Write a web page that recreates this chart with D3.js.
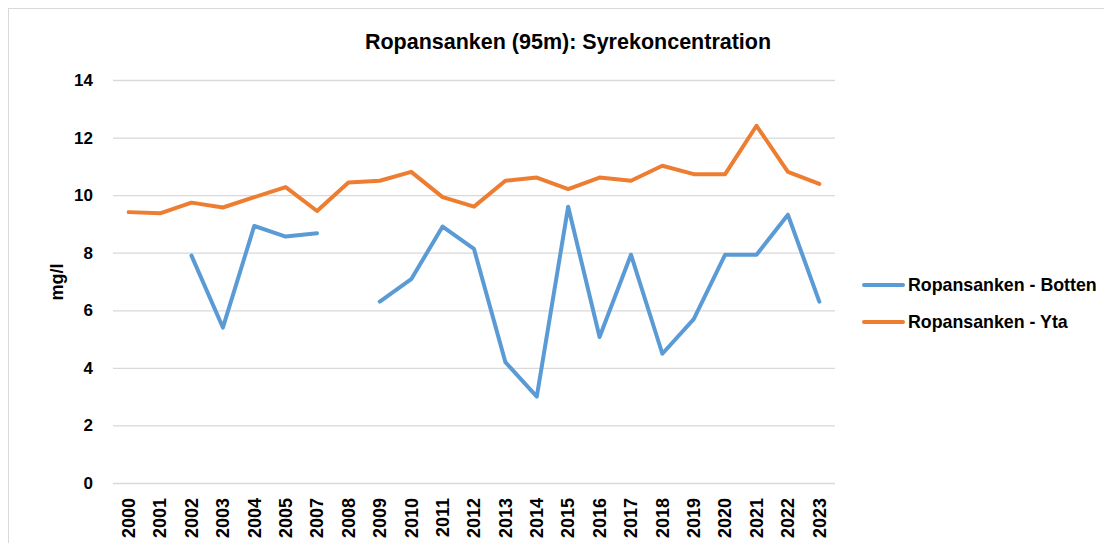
<!DOCTYPE html>
<html>
<head>
<meta charset="utf-8">
<script src="https://cdn.jsdelivr.net/npm/d3@7"></script>
<style>
  body { margin: 0; background: #fff; }
  text { font-family: "Liberation Sans", Arial, sans-serif; font-weight: bold; fill: #000; }
</style>
</head>
<body>
<svg id="chart" width="1104" height="543"></svg>
<script>
// categories (note: 2006 missing in source)
const years = ["2000","2001","2002","2003","2004","2005","2007","2008","2009","2010","2011",
  "2012","2013","2014","2015","2016","2017","2018","2019","2020","2021","2022","2023"];

const botten = [null, null, 7.9, 5.4, 8.93, 8.56, 8.68, null, 6.3, 7.08, 8.91,
  8.13, 4.2, 3.0, 9.6, 5.07, 7.93, 4.49, 5.69, 7.93, 7.93, 9.32, 6.3];

const yta = [9.41, 9.37, 9.74, 9.57, 9.93, 10.28, 9.45, 10.44, 10.5, 10.81, 9.93,
  9.6, 10.5, 10.61, 10.21, 10.61, 10.5, 11.02, 10.73, 10.73, 12.41, 10.81, 10.39];

const yTicks = [0, 2, 4, 6, 8, 10, 12, 14];

const series = [
  {name: "Ropansanken - Botten", values: botten, color: "#5b9bd5"},
  {name: "Ropansanken - Yta", values: yta, color: "#ed7d31"},
];

const svg = d3.select("#chart");

// outer frame
svg.append("rect")
  .attr("x", 8.5).attr("y", 8.5)
  .attr("width", 1110).attr("height", 560)
  .attr("fill", "none").attr("stroke", "#d9d9d9");

const plotL = 113, plotR = 835, plotT = 80, plotB = 483;

const x = d3.scaleBand().domain(years).range([plotL, plotR]);
const y = d3.scaleLinear().domain([0, 14]).range([plotB, plotT]);

// gridlines
svg.append("g")
  .selectAll("line")
  .data(yTicks)
  .enter()
  .append("line")
  .attr("x1", plotL).attr("x2", plotR)
  .attr("y1", d => y(d) + 0.5).attr("y2", d => y(d) + 0.5)
  .attr("stroke", "#d9d9d9").attr("stroke-width", 1.3);

// y axis labels
const yAxis = svg.append("g")
  .attr("transform", `translate(${plotL - 20},0)`)
  .call(d3.axisLeft(y).tickValues(yTicks).tickSize(0).tickPadding(0));
yAxis.select(".domain").remove();
yAxis.selectAll("text")
  .style("font-size", "17px")
  .style("font-family", "'Liberation Sans', Arial, sans-serif")
  .style("font-weight", "bold")
  .attr("fill", "#000");

// x axis labels
const xAxis = svg.append("g")
  .attr("transform", `translate(0,${plotB})`)
  .call(d3.axisBottom(x).tickSize(0).tickPadding(0));
xAxis.select(".domain").remove();
xAxis.selectAll("text")
  .attr("transform", "rotate(-90)")
  .attr("x", -15).attr("y", 0).attr("dy", "0.35em")
  .style("text-anchor", "end")
  .style("font-size", "18px")
  .style("font-family", "'Liberation Sans', Arial, sans-serif")
  .style("font-weight", "bold")
  .attr("fill", "#000");

// lines
const line = d3.line()
  .defined(d => d.v != null)
  .x(d => x(d.year) + x.bandwidth() / 2)
  .y(d => y(d.v));

series.forEach(s => {
  svg.append("path")
    .datum(years.map((yr, i) => ({year: yr, v: s.values[i]})))
    .attr("fill", "none")
    .attr("stroke", s.color)
    .attr("stroke-width", 4)
    .attr("stroke-linejoin", "round")
    .attr("stroke-linecap", "round")
    .attr("d", line);
});

// title
svg.append("text")
  .attr("x", 568).attr("y", 49)
  .attr("text-anchor", "middle")
  .style("font-size", "21.5px")
  .text("Ropansanken (95m): Syrekoncentration");

// y title
svg.append("text")
  .attr("transform", "translate(63,282) rotate(-90)")
  .attr("text-anchor", "middle")
  .style("font-size", "18px")
  .text("mg/l");

// legend
const legend = svg.append("g")
  .selectAll("g")
  .data(series)
  .enter()
  .append("g")
  .attr("transform", (d, i) => `translate(864,${285 + i * 37})`);
legend.append("line")
  .attr("x1", 0).attr("x2", 39)
  .attr("stroke", d => d.color)
  .attr("stroke-width", 4)
  .attr("stroke-linecap", "round");
legend.append("text")
  .attr("x", 44).attr("dy", "0.35em")
  .style("font-size", "17.8px")
  .text(d => d.name);
</script>
</body>
</html>
